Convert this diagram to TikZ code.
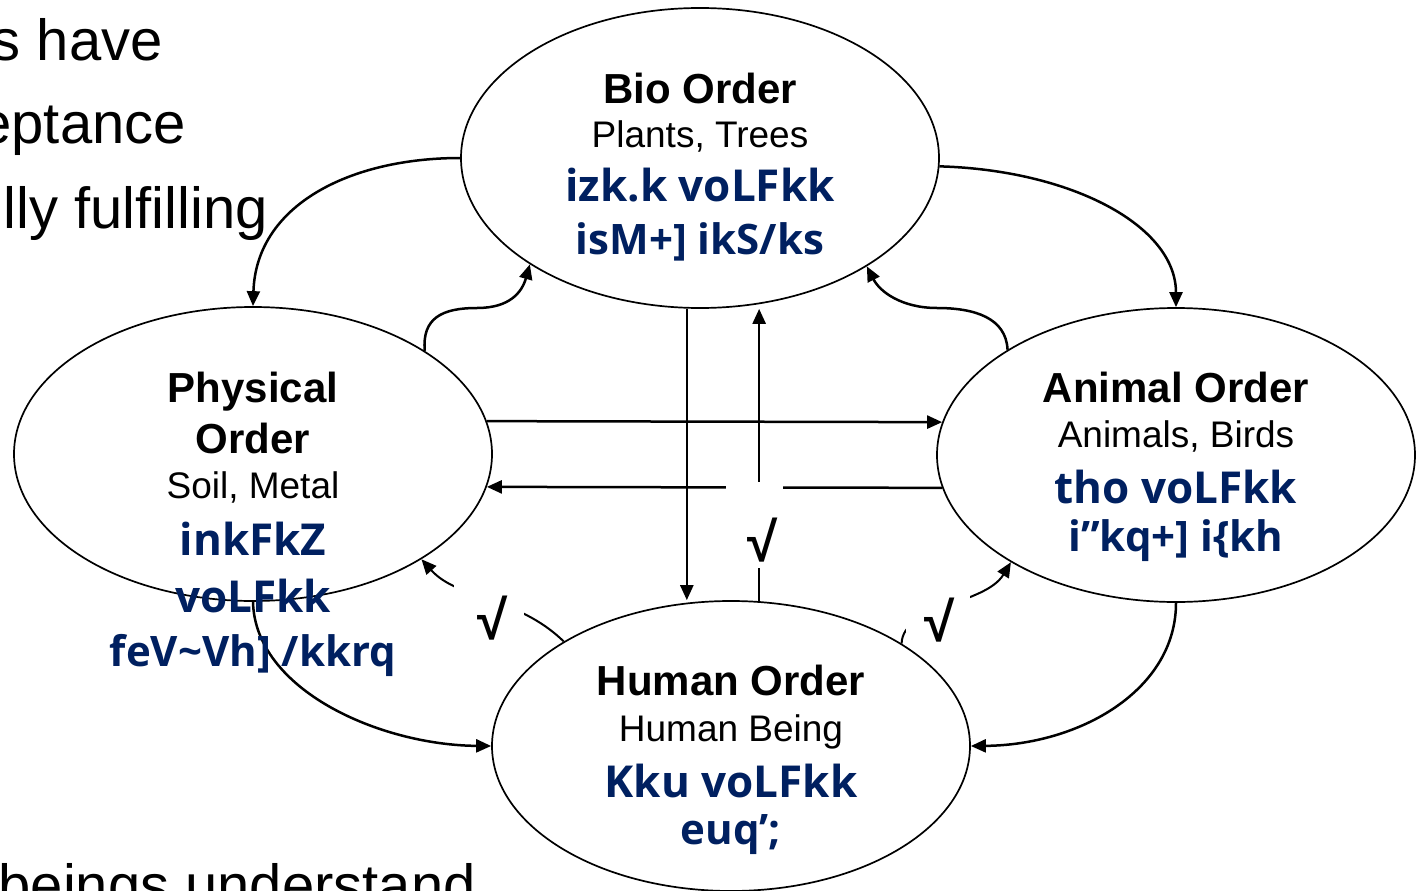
\documentclass[tikz,border=0pt]{standalone}
\usepackage{fontspec}
\setmainfont{Liberation Sans}
\newfontfamily\hfont{Open Sans}
\usetikzlibrary{shapes.geometric,arrows.meta,calc}
\pgfdeclarelayer{bg}
\pgfsetlayers{bg,main}
\definecolor{navy}{RGB}{0,32,96}
\tikzset{
 order/.style={draw, ellipse, line width=1.7pt, minimum width=478pt, minimum height=294pt, inner sep=0pt},
 ttl/.style={anchor=base, inner sep=0pt, font=\fontsize{42}{48}\selectfont\bfseries},
 sub/.style={anchor=base, inner sep=0pt, font=\fontsize{37}{42}\selectfont},
 hb/.style={anchor=base, inner sep=0pt, text=navy, font=\hfont\bfseries\fontsize{44}{50}\selectfont},
 hs/.style={anchor=base, inner sep=0pt, text=navy, font=\hfont\bfseries\fontsize{42}{48}\selectfont},
 conn/.style={line width=2.5pt, -{Triangle[length=15pt,width=13pt]}},
 tick/.style={font=\fontsize{55}{58}\selectfont\bfseries, inner sep=0pt},
 bgtext/.style={anchor=base east, inner sep=0pt, font=\fontsize{58}{62}\selectfont},
}
\begin{document}
\begin{tikzpicture}[x=1pt,y=-1pt]
\useasboundingbox (0,0) rectangle (1422,891);
\clip (0,0) rectangle (1422,891);
% background slide text
\node[bgtext] (t1) at (163,60) {s have};
\node[bgtext] (t2) at (186,143) {eptance};
\node[bgtext] (t3) at (268,228) {lly fulfilling};
\node[bgtext] (t4) at (476,905) {beings understand};
% ellipses
\node[order, minimum height=300pt] (bio) at (700,158) {};
\node[order] (phys) at (253,454) {};
\node[order] (anim) at (1176,455) {};
\node[order, minimum height=290pt] (hum) at (731,746) {};
% connectors
\begin{pgfonlayer}{bg}
\draw[conn] (bio.180) .. controls (350,158) and (256,205) .. (phys.90);
\draw[conn] (bio.-2) .. controls (1070,170) and (1176,225) .. (anim.90);
\draw[conn] (phys.270) .. controls (255,690) and (380,745) .. (hum.180);
\draw[conn] (anim.270) .. controls (1176,690) and (1080,745) .. (hum.0);
\draw[conn] (phys.31) .. controls (422,318) and (442,308) .. (477,308) .. controls (510,308) and (522,292) .. (bio.212);
\draw[conn] (anim.148) .. controls (1006,318) and (975,308) .. (937,308) .. controls (902,308) and (880,292) .. (bio.-33);
\draw[conn] (phys.8) -- (anim.172);
\draw[conn] (anim.188) -- (phys.-8);
\draw[conn] (bio.265) -- (bio.265 |- hum.north);
\draw[conn] (hum.79) -- (hum.79 |- bio.south);
\draw[conn, line width=2pt] (hum.148) .. controls (517,596) and (458,600) .. (phys.-32);
\draw[conn, line width=2pt] (hum.31) .. controls (903,605) and (985,605) .. (anim.213);
\fill[white] (726,482) rectangle (783,568);
\fill[white] (454,583) rectangle (524,648);
\fill[white] (906,580) rectangle (970,632);
\end{pgfonlayer}
\node[tick] (ck1) at (493,618) {√};
\node[tick] (ck2) at (763,540) {√};
\node[tick] (ck3) at (940,620) {√};
% texts
\node[ttl] (bio1) at (700,103) {Bio Order};
\node[sub] (bio2) at (700,147) {Plants, Trees};
\node[hb] (bio3) at (700,201) {izk.k voLFkk};
\node[hs] (bio4) at (700,254) {isM+] ikS/ks};
\node[ttl] (ph1) at (253,402) {Physical};
\node[ttl] (ph2) at (253,453) {Order};
\node[sub] (ph3) at (253,498) {Soil, Metal};
\node[hb] (ph4) at (253,555) {inkFkZ};
\node[hb] (ph5) at (253,612) {voLFkk};
\node[hs] (ph6) at (253,666) {feV\char`\~Vh] /kkrq};
\node[ttl] (an1) at (1176,402) {Animal Order};
\node[sub] (an2) at (1176,447) {Animals, Birds};
\node[hb] (an3) at (1176,503) {tho voLFkk};
\node[hs] (an4) at (1176,551) {i”kq+] i\{kh};
\node[ttl] (hu1) at (731,695) {Human Order};
\node[sub] (hu2) at (731,741) {Human Being};
\node[hb] (hu3) at (731,797) {Kku voLFkk};
\node[hs] (hu4) at (731,844) {euq’;};
\end{tikzpicture}
\end{document}
